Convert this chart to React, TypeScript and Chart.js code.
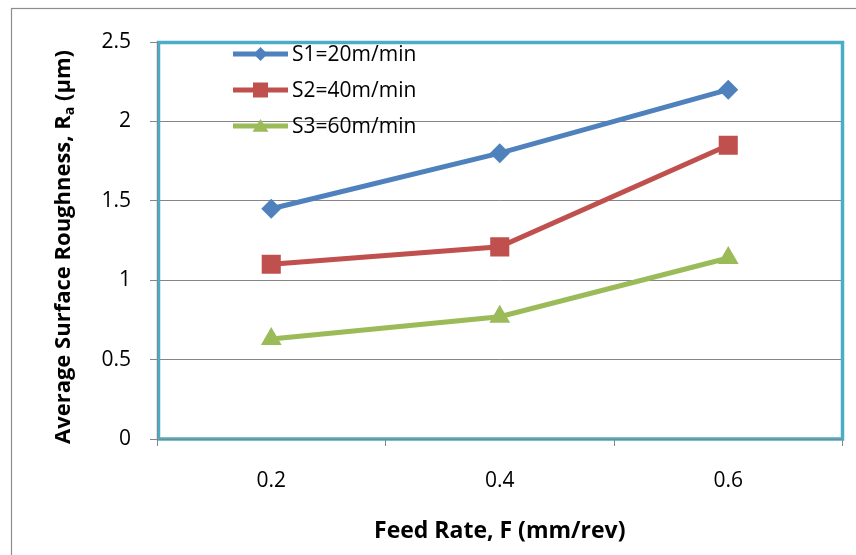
import React, { useEffect, useRef } from 'react';
import { Chart, registerables } from 'chart.js';
Chart.register(...registerables);

const categories = ['0.2', '0.4', '0.6'];
const seriesLabels = ['S1=20m/min', 'S2=40m/min', 'S3=60m/min'];
const s1Values = [1.45, 1.8, 2.2];
const s2Values = [1.1, 1.21, 1.85];
const s3Values = [0.63, 0.77, 1.14];
const yTickValues = [0, 0.5, 1, 1.5, 2, 2.5];
const yTickLabels = ['0', '0.5', '1', '1.5', '2', '2.5'];
const xTitle = 'Feed Rate, F (mm/rev)';
const yTitleMain = 'Average Surface Roughness, R';
const yTitleSub = 'a';
const yTitleEnd = ' (μm)';

const FONT = "'Open Sans', sans-serif";
const BLUE = '#4F81BD';
const RED = '#C0504D';
const GREEN = '#9BBB59';
const TEAL = '#4BACC6';
const GRID = '#868686';

function drawMarker(ctx: CanvasRenderingContext2D, style: string, x: number, y: number, r: number, color: string) {
  ctx.save();
  ctx.fillStyle = color;
  ctx.beginPath();
  if (style === 'rectRot') {
    ctx.moveTo(x, y - r);
    ctx.lineTo(x + r, y);
    ctx.lineTo(x, y + r);
    ctx.lineTo(x - r, y);
  } else if (style === 'rect') {
    ctx.rect(x - r, y - r, 2 * r, 2 * r);
  } else {
    const h = r * 1.6;
    ctx.moveTo(x, y - h * 0.55);
    ctx.lineTo(x + r * 1.0, y + h * 0.45);
    ctx.lineTo(x - r * 1.0, y + h * 0.45);
  }
  ctx.closePath();
  ctx.fill();
  ctx.restore();
}

const framePlugin = {
  id: 'frame',
  beforeDraw(chart: any) {
    const ctx = chart.ctx as CanvasRenderingContext2D;
    ctx.save();
    ctx.fillStyle = '#ffffff';
    ctx.fillRect(0, 0, chart.width, chart.height);
    ctx.strokeStyle = '#8d8d8d';
    ctx.lineWidth = 1.2;
    ctx.strokeRect(11.5, 8.5, 1000, 1000);
    ctx.restore();
  },
  beforeDatasetsDraw(chart: any) {
    const ctx = chart.ctx as CanvasRenderingContext2D;
    const a = chart.chartArea;
    ctx.save();
    ctx.strokeStyle = TEAL;
    ctx.lineWidth = 3.5;
    ctx.strokeRect(a.left + 1.5, a.top + 0.5, a.right - a.left - 1.5, a.bottom - a.top - 0.5);
    ctx.strokeStyle = GRID;
    ctx.lineWidth = 1;
    ctx.beginPath();
    ctx.moveTo(a.left + 0.5, a.top);
    ctx.lineTo(a.left + 0.5, a.bottom + 0.5);
    ctx.lineTo(a.right, a.bottom + 0.5);
    ctx.stroke();
    ctx.restore();
  },
  afterDraw(chart: any) {
    const ctx = chart.ctx as CanvasRenderingContext2D;
    // y title with subscript
    ctx.save();
    ctx.translate(64, 247);
    ctx.rotate(-Math.PI / 2);
    ctx.fillStyle = '#000';
    ctx.textBaseline = 'middle';
    ctx.textAlign = 'left';
    const mainFont = `bold 22px ${FONT}`;
    const subFont = `bold 14px ${FONT}`;
    ctx.font = mainFont;
    const w1 = ctx.measureText(yTitleMain).width;
    const w3 = ctx.measureText(yTitleEnd).width;
    ctx.font = subFont;
    const w2 = ctx.measureText(yTitleSub).width;
    let x = -(w1 + w2 + w3) / 2;
    ctx.font = mainFont;
    ctx.fillText(yTitleMain, x, 0);
    x += w1;
    ctx.font = subFont;
    ctx.fillText(yTitleSub, x, 6);
    x += w2;
    ctx.font = mainFont;
    ctx.fillText(yTitleEnd, x, 0);
    ctx.restore();

    // legend
    const ds = chart.data.datasets;
    const legendR = [7, 7.5, 8];
    ds.forEach((d: any, i: number) => {
      const y = 54 + i * 36;
      ctx.save();
      ctx.strokeStyle = d.borderColor;
      ctx.lineWidth = 5;
      ctx.beginPath();
      ctx.moveTo(233, y);
      ctx.lineTo(288, y);
      ctx.stroke();
      ctx.restore();
      drawMarker(ctx, d.pointStyle, 260.5, y, legendR[i], d.borderColor);
      ctx.save();
      ctx.fillStyle = '#000';
      ctx.font = `21px ${FONT}`;
      ctx.textBaseline = 'middle';
      ctx.textAlign = 'left';
      ctx.fillText(d.label, 292, y + 1);
      ctx.restore();
    });
  },
};

export default function App() {
  const ref = useRef<HTMLCanvasElement | null>(null);
  useEffect(() => {
    if (!ref.current) return;
    const mk = (label: string, data: number[], color: string, style: string, r: number) => ({
      label,
      data,
      borderColor: color,
      backgroundColor: color,
      pointBackgroundColor: color,
      pointBorderColor: color,
      pointBorderWidth: 0,
      pointStyle: style,
      pointRadius: r,
      pointHoverRadius: r,
      borderWidth: 5,
      tension: 0,
      fill: false,
    });
    const chart = new Chart(ref.current, {
      type: 'line',
      data: {
        labels: categories,
        datasets: [
          mk(seriesLabels[0], s1Values, BLUE, 'rectRot', 10),
          mk(seriesLabels[1], s2Values, RED, 'rect', 13.5),
          mk(seriesLabels[2], s3Values, GREEN, 'triangle', 12),
        ],
      },
      options: {
        responsive: false,
        animation: false,
        layout: { padding: { left: 0, top: 42, right: 11, bottom: 0 } },
        plugins: { legend: { display: false }, tooltip: { enabled: false }, title: { display: false } },
        scales: {
          x: {
            type: 'category',
            offset: true,
            grid: { offset: true, drawOnChartArea: false, drawTicks: true, tickLength: 7, color: GRID, tickColor: GRID },
            border: { display: true, color: GRID, width: 1 },
            ticks: { padding: 22, color: '#000', font: { family: FONT, size: 21 } },
            title: { display: true, text: xTitle, color: '#000', font: { family: FONT, size: 23, weight: 'bold' }, padding: { top: 0, bottom: 10 } },
            afterFit: (s: any) => { s.height = 116; },
          },
          y: {
            min: 0,
            max: 2.5,
            afterBuildTicks: (s: any) => { s.ticks = yTickValues.map((v) => ({ value: v })); },
            grid: { drawOnChartArea: true, drawTicks: true, tickLength: 7, color: GRID, tickColor: GRID },
            border: { display: true, color: GRID, width: 1 },
            ticks: {
              padding: 19,
              color: '#000',
              font: { family: FONT, size: 21 },
              callback: (v: any) => {
                const idx = yTickValues.indexOf(Number(v));
                return idx >= 0 ? yTickLabels[idx] : String(v);
              },
            },
            afterFit: (s: any) => { s.width = 157; },
          },
        },
      } as any,
      plugins: [framePlugin],
    });
    return () => chart.destroy();
  }, []);
  return (
    <div style={{ position: 'absolute', left: 0, top: 0, width: 856, height: 555, background: '#fff' }}>
      <canvas ref={ref} width={856} height={555} style={{ display: 'block' }} />
    </div>
  );
}
